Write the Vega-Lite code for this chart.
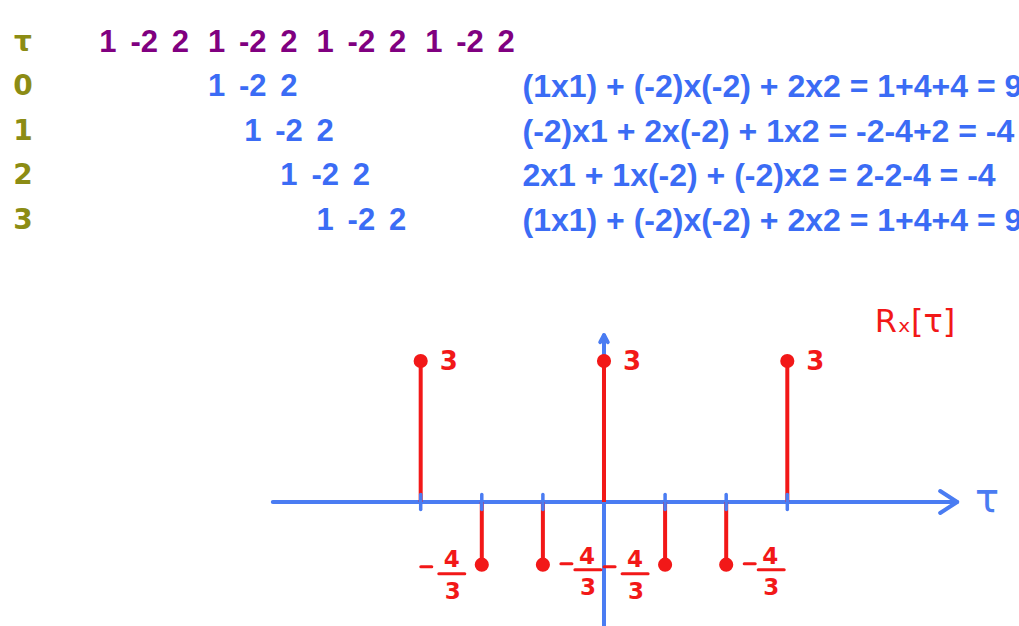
{
  "$schema": "https://vega.github.io/schema/vega-lite/v6.json",
  "width": 1019,
  "height": 626,
  "autosize": {"type": "none"},
  "padding": 0,
  "background": "white",
  "config": {"view": {"stroke": null}},
  "datasets": {
    "stems": [
      {"tau": -3, "R": 3},
      {"tau": -2, "R": -1.3333333},
      {"tau": -1, "R": -1.3333333},
      {"tau": 0, "R": 3},
      {"tau": 1, "R": -1.3333333},
      {"tau": 2, "R": -1.3333333},
      {"tau": 3, "R": 3}
    ],
    "seq": [
      {"row": 0, "col": 0, "v": "1"}, {"row": 0, "col": 1, "v": "-2"}, {"row": 0, "col": 2, "v": "2"},
      {"row": 0, "col": 3, "v": "1"}, {"row": 0, "col": 4, "v": "-2"}, {"row": 0, "col": 5, "v": "2"},
      {"row": 0, "col": 6, "v": "1"}, {"row": 0, "col": 7, "v": "-2"}, {"row": 0, "col": 8, "v": "2"},
      {"row": 0, "col": 9, "v": "1"}, {"row": 0, "col": 10, "v": "-2"}, {"row": 0, "col": 11, "v": "2"},
      {"row": 1, "col": 3, "v": "1"}, {"row": 1, "col": 4, "v": "-2"}, {"row": 1, "col": 5, "v": "2"},
      {"row": 2, "col": 4, "v": "1"}, {"row": 2, "col": 5, "v": "-2"}, {"row": 2, "col": 6, "v": "2"},
      {"row": 3, "col": 5, "v": "1"}, {"row": 3, "col": 6, "v": "-2"}, {"row": 3, "col": 7, "v": "2"},
      {"row": 4, "col": 6, "v": "1"}, {"row": 4, "col": 7, "v": "-2"}, {"row": 4, "col": 8, "v": "2"}
    ],
    "rowlabels": [
      {"row": 0, "lab": "τ"},
      {"row": 1, "lab": "0"},
      {"row": 2, "lab": "1"},
      {"row": 3, "lab": "2"},
      {"row": 4, "lab": "3"}
    ],
    "eqs": [
      {"row": 1, "eq": "(1x1) + (-2)x(-2) + 2x2 = 1+4+4 = 9"},
      {"row": 2, "eq": "(-2)x1 + 2x(-2) + 1x2 = -2-4+2 = -4"},
      {"row": 3, "eq": "2x1 + 1x(-2) + (-2)x2 = 2-2-4 = -4"},
      {"row": 4, "eq": "(1x1) + (-2)x(-2) + 2x2 = 1+4+4 = 9"}
    ]
  },
  "layer": [
    {
      "data": {"name": "stems"},
      "layer": [
        {
          "data": {"values": [{}]},
          "mark": {"type": "rule", "color": "#4a7cf2", "strokeWidth": 4, "strokeCap": "round"},
          "encoding": {
            "x": {"datum": -5.42, "type": "quantitative", "scale": {"domain": [-9.885, 6.792], "nice": false, "zero": false}, "axis": null},
            "x2": {"datum": 5.78},
            "y": {"datum": 0, "type": "quantitative", "scale": {"domain": [-2.638, 10.681], "nice": false, "zero": false}, "axis": null}
          }
        },
        {
          "data": {"values": [{}]},
          "mark": {"type": "rule", "color": "#4a7cf2", "strokeWidth": 4, "strokeCap": "round"},
          "encoding": {
            "x": {"datum": 0, "type": "quantitative", "scale": {"domain": [-9.885, 6.792], "nice": false, "zero": false}, "axis": null},
            "y": {"datum": -2.63, "type": "quantitative", "scale": {"domain": [-2.638, 10.681], "nice": false, "zero": false}, "axis": null},
            "y2": {"datum": 3.55}
          }
        },
        {
          "data": {"values": [{}]},
          "mark": {"type": "point", "shape": "M-1.7,-1.1L0,0L-1.7,1.1", "size": 400, "filled": false, "color": "#4a7cf2", "strokeWidth": 4, "strokeCap": "round", "strokeJoin": "round", "opacity": 1},
          "encoding": {
            "x": {"datum": 5.78, "type": "quantitative", "scale": {"domain": [-9.885, 6.792], "nice": false, "zero": false}, "axis": null},
            "y": {"datum": 0, "type": "quantitative", "scale": {"domain": [-2.638, 10.681], "nice": false, "zero": false}, "axis": null}
          }
        },
        {
          "data": {"values": [{}]},
          "mark": {"type": "point", "shape": "M-0.75,1.4L0,0L0.75,1.4", "size": 100, "filled": false, "color": "#4a7cf2", "strokeWidth": 4, "strokeCap": "round", "strokeJoin": "round", "opacity": 1},
          "encoding": {
            "x": {"datum": 0, "type": "quantitative", "scale": {"domain": [-9.885, 6.792], "nice": false, "zero": false}, "axis": null},
            "y": {"datum": 3.55, "type": "quantitative", "scale": {"domain": [-2.638, 10.681], "nice": false, "zero": false}, "axis": null}
          }
        },
        {
          "mark": {"type": "rule", "color": "#f21818", "strokeWidth": 4},
          "encoding": {
            "x": {"field": "tau", "type": "quantitative", "scale": {"domain": [-9.885, 6.792], "nice": false, "zero": false}, "axis": null},
            "y": {"field": "R", "type": "quantitative", "scale": {"domain": [-2.638, 10.681], "nice": false, "zero": false}, "axis": null},
            "y2": {"datum": 0}
          }
        },
        {
          "transform": [{"filter": "datum.tau != 0"}],
          "mark": {"type": "rule", "color": "#4a7cf2", "strokeWidth": 3.5, "strokeCap": "round"},
          "encoding": {
            "x": {"field": "tau", "type": "quantitative", "scale": {"domain": [-9.885, 6.792], "nice": false, "zero": false}, "axis": null},
            "y": {"datum": -0.16, "type": "quantitative", "scale": {"domain": [-2.638, 10.681], "nice": false, "zero": false}, "axis": null},
            "y2": {"datum": 0.16}
          }
        },
        {
          "mark": {"type": "point", "shape": "circle", "filled": true, "size": 200, "color": "#f21818", "opacity": 1},
          "encoding": {
            "x": {"field": "tau", "type": "quantitative", "scale": {"domain": [-9.885, 6.792], "nice": false, "zero": false}, "axis": null},
            "y": {"field": "R", "type": "quantitative", "scale": {"domain": [-2.638, 10.681], "nice": false, "zero": false}, "axis": null}
          }
        },
        {
          "transform": [{"filter": "datum.R > 0"}],
          "mark": {"type": "text", "text": "3", "dx": 28, "dy": 1, "align": "center", "baseline": "middle", "font": "DejaVu Sans", "fontWeight": "bold", "fontSize": 26, "color": "#f21818"},
          "encoding": {
            "x": {"field": "tau", "type": "quantitative", "scale": {"domain": [-9.885, 6.792], "nice": false, "zero": false}, "axis": null},
            "y": {"field": "R", "type": "quantitative", "scale": {"domain": [-2.638, 10.681], "nice": false, "zero": false}, "axis": null}
          }
        },
        {
          "transform": [{"filter": "datum.tau == -2 || datum.tau == 1"}],
          "layer": [
            {"mark": {"type": "rule", "color": "#f21818", "strokeWidth": 3, "strokeCap": "round", "xOffset": -61, "x2Offset": -50, "yOffset": 2}, "encoding": {"x2": {"field": "tau"}}},
            {"mark": {"type": "text", "text": "4", "dx": -30, "dy": -5, "align": "center", "baseline": "middle", "font": "DejaVu Sans", "fontWeight": "bold", "fontSize": 23, "color": "#f21818"}},
            {"mark": {"type": "text", "text": "3", "dx": -29, "dy": 27, "align": "center", "baseline": "middle", "font": "DejaVu Sans", "fontWeight": "bold", "fontSize": 23, "color": "#f21818"}},
            {"mark": {"type": "rule", "color": "#f21818", "strokeWidth": 3, "strokeCap": "round", "xOffset": -43, "x2Offset": -17, "yOffset": 9}, "encoding": {"x2": {"field": "tau"}}}
          ],
          "encoding": {
            "x": {"field": "tau", "type": "quantitative", "scale": {"domain": [-9.885, 6.792], "nice": false, "zero": false}, "axis": null},
            "y": {"field": "R", "type": "quantitative", "scale": {"domain": [-2.638, 10.681], "nice": false, "zero": false}, "axis": null}
          }
        },
        {
          "transform": [{"filter": "datum.tau == -1 || datum.tau == 2"}],
          "layer": [
            {"mark": {"type": "rule", "color": "#f21818", "strokeWidth": 3, "strokeCap": "round", "xOffset": 18, "x2Offset": 29, "yOffset": -1}, "encoding": {"x2": {"field": "tau"}}},
            {"mark": {"type": "text", "text": "4", "dx": 44, "dy": -8, "align": "center", "baseline": "middle", "font": "DejaVu Sans", "fontWeight": "bold", "fontSize": 23, "color": "#f21818"}},
            {"mark": {"type": "text", "text": "3", "dx": 45, "dy": 23, "align": "center", "baseline": "middle", "font": "DejaVu Sans", "fontWeight": "bold", "fontSize": 23, "color": "#f21818"}},
            {"mark": {"type": "rule", "color": "#f21818", "strokeWidth": 3, "strokeCap": "round", "xOffset": 32, "x2Offset": 58, "yOffset": 5}, "encoding": {"x2": {"field": "tau"}}}
          ],
          "encoding": {
            "x": {"field": "tau", "type": "quantitative", "scale": {"domain": [-9.885, 6.792], "nice": false, "zero": false}, "axis": null},
            "y": {"field": "R", "type": "quantitative", "scale": {"domain": [-2.638, 10.681], "nice": false, "zero": false}, "axis": null}
          }
        },
        {
          "data": {"values": [{"lab": "Rₓ[τ]"}]},
          "mark": {"type": "text", "align": "center", "baseline": "middle", "font": "DejaVu Sans", "fontSize": 32, "color": "#f21818"},
          "encoding": {
            "x": {"datum": 5.09, "type": "quantitative", "scale": {"domain": [-9.885, 6.792], "nice": false, "zero": false}, "axis": null},
            "y": {"datum": 3.83, "type": "quantitative", "scale": {"domain": [-2.638, 10.681], "nice": false, "zero": false}, "axis": null},
            "text": {"field": "lab"}
          }
        },
        {
          "data": {"values": [{"lab": "τ"}]},
          "mark": {"type": "text", "align": "center", "baseline": "middle", "font": "DejaVu Sans", "fontSize": 40, "color": "#4a7cf2"},
          "encoding": {
            "x": {"datum": 6.27, "type": "quantitative", "scale": {"domain": [-9.885, 6.792], "nice": false, "zero": false}, "axis": null},
            "y": {"datum": 0.05, "type": "quantitative", "scale": {"domain": [-2.638, 10.681], "nice": false, "zero": false}, "axis": null},
            "text": {"field": "lab"}
          }
        }
      ]
    },
    {
      "layer": [
        {
          "data": {"name": "seq"},
          "mark": {"type": "text", "align": "center", "baseline": "middle", "font": "Liberation Sans", "fontWeight": "bold", "fontSize": 31},
          "encoding": {
            "x": {"field": "col", "type": "quantitative", "scale": {"domain": [-2.983, 25.166], "nice": false, "zero": false}, "axis": null},
            "y": {"field": "row", "type": "quantitative", "scale": {"domain": [-0.966, 13.101], "nice": false, "zero": false, "reverse": true}, "axis": null},
            "text": {"field": "v"},
            "color": {"condition": {"test": "datum.row === 0", "value": "#800080"}, "value": "#3b6cf5"}
          }
        },
        {
          "data": {"name": "rowlabels"},
          "mark": {"type": "text", "align": "center", "baseline": "middle", "font": "DejaVu Sans", "fontWeight": "bold", "fontSize": 28, "color": "#8c8c14"},
          "encoding": {
            "x": {"datum": -2.35, "type": "quantitative", "scale": {"domain": [-2.983, 25.166], "nice": false, "zero": false}, "axis": null},
            "y": {"field": "row", "type": "quantitative", "scale": {"domain": [-0.966, 13.101], "nice": false, "zero": false, "reverse": true}, "axis": null},
            "text": {"field": "lab"}
          }
        },
        {
          "data": {"name": "eqs"},
          "mark": {"type": "text", "align": "left", "baseline": "middle", "font": "Liberation Sans", "fontWeight": "bold", "fontSize": 32, "color": "#3b6cf5"},
          "encoding": {
            "x": {"datum": 11.45, "type": "quantitative", "scale": {"domain": [-2.983, 25.166], "nice": false, "zero": false}, "axis": null},
            "y": {"field": "row", "type": "quantitative", "scale": {"domain": [-0.966, 13.101], "nice": false, "zero": false, "reverse": true}, "axis": null},
            "text": {"field": "eq"}
          }
        }
      ]
    }
  ],
  "resolve": {"scale": {"x": "independent", "y": "independent"}}
}
